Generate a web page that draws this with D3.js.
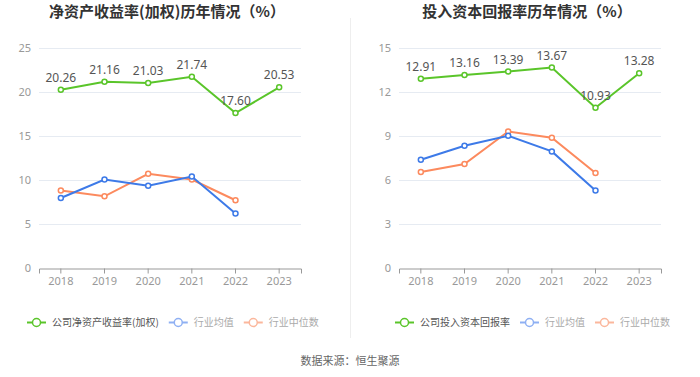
<!DOCTYPE html>
<html>
<head>
<meta charset="utf-8">
<script src="https://cdn.jsdelivr.net/npm/d3@7/dist/d3.min.js"></script>
<style>
  body { margin: 0; background: #fff; }
  svg { font-family: "Noto Sans CJK SC", "Noto Sans", sans-serif; }
</style>
</head>
<body>
<div id="chart"></div>
<script>
var years = ['2018', '2019', '2020', '2021', '2022', '2023'];

// left: ROE (weighted)
var roeCompany = [20.26, 21.16, 21.03, 21.74, 17.60, 20.53];
var roeMean    = [7.95, 10.05, 9.35, 10.4, 6.2];
var roeMedian  = [8.8, 8.15, 10.7, 10.05, 7.7];
var roeTicks   = [0, 5, 10, 15, 20, 25];

// right: ROIC
var roicCompany = [12.91, 13.16, 13.39, 13.67, 10.93, 13.28];
var roicMean    = [7.38, 8.34, 9.02, 7.95, 5.29];
var roicMedian  = [6.54, 7.09, 9.31, 8.88, 6.48];
var roicTicks   = [0, 3, 6, 9, 12, 15];

var green = '#5ac52a', blue = '#3d7ae8', orange = '#fc8a5e';

var width = 700, height = 377;

var svg = d3.select('#chart').append('svg')
    .attr('width', width)
    .attr('height', height);

// divider
svg.append('line')
    .attr('x1', 350.5).attr('x2', 350.5)
    .attr('y1', 18).attr('y2', 338)
    .attr('stroke', '#eeeeee');

svg.append('text')
    .attr('x', 350).attr('y', 365)
    .attr('text-anchor', 'middle')
    .attr('font-size', 11)
    .attr('fill', '#666')
    .text('数据来源：恒生聚源');

function drawPanel(cfg) {
    var g = svg.append('g');

    var x = d3.scaleBand()
        .domain(years)
        .range([cfg.x0, cfg.x1]);

    var y = d3.scaleLinear()
        .domain([0, d3.max(cfg.ticks)])
        .range([268, 48]);

    g.append('text')
        .attr('x', (cfg.x0 + cfg.x1) / 2 - 3)
        .attr('y', 17)
        .attr('text-anchor', 'middle')
        .attr('font-size', 15)
        .attr('font-weight', 'bold')
        .attr('fill', '#333')
        .text(cfg.title);

    // grid
    g.selectAll('.grid').data(cfg.ticks.slice(1))
        .enter().append('line')
        .attr('x1', cfg.x0).attr('x2', cfg.x1)
        .attr('y1', function(d) { return Math.round(y(d)) + 0.5; })
        .attr('y2', function(d) { return Math.round(y(d)) + 0.5; })
        .attr('stroke', '#e6ebf2');

    var yAxis = g.append('g')
        .attr('transform', 'translate(' + cfg.x0 + ',0)')
        .call(d3.axisLeft(y).tickValues(cfg.ticks).tickSize(0).tickPadding(8));
    yAxis.select('.domain').remove();
    yAxis.selectAll('text').attr('fill', '#999').attr('font-size', 11)
        .style('font-family', '"Noto Sans", sans-serif');

    var xAxis = g.append('g')
        .attr('transform', 'translate(0,268.5)')
        .call(d3.axisBottom(x).tickSize(5).tickPadding(4));
    xAxis.select('.domain').attr('stroke', '#999');
    xAxis.selectAll('line').attr('stroke', '#999');
    xAxis.selectAll('text').attr('fill', '#999').attr('font-size', 11)
        .style('font-family', '"Noto Sans", sans-serif');

    var cx = function(d, i) { return x(years[i]) + x.bandwidth() / 2; };
    var line = d3.line()
        .x(cx)
        .y(function(d) { return y(d); });

    [[cfg.median, orange], [cfg.mean, blue], [cfg.company, green]].forEach(function(s) {
        g.append('path')
            .datum(s[0])
            .attr('d', line)
            .attr('fill', 'none')
            .attr('stroke', s[1])
            .attr('stroke-width', 2);
        g.selectAll(null).data(s[0])
            .enter().append('circle')
            .attr('cx', cx)
            .attr('cy', function(d) { return y(d); })
            .attr('r', 2.5)
            .attr('fill', '#fff')
            .attr('stroke', s[1])
            .attr('stroke-width', 1.5);
    });

    g.selectAll(null).data(cfg.company)
        .enter().append('text')
        .attr('x', cx)
        .attr('y', function(d) { return y(d) - 8; })
        .attr('text-anchor', 'middle')
        .attr('font-size', 12)
        .attr('fill', '#555')
        .style('font-family', '"Noto Sans", sans-serif')
        .text(function(d) { return d.toFixed(2); });

    // legend
    var items = [
        { name: cfg.legend, color: green, text: '#555' },
        { name: '行业均值', color: '#8fb0f3', text: '#aaa' },
        { name: '行业中位数', color: '#fbb79c', text: '#aaa' }
    ];
    var lx = cfg.legendX;
    items.forEach(function(it) {
        var lg = g.append('g').attr('transform', 'translate(' + lx + ',322.5)');
        lg.append('line').attr('x1', 0).attr('x2', 19)
            .attr('stroke', it.color).attr('stroke-width', 2);
        lg.append('circle').attr('cx', 9.5).attr('r', 4)
            .attr('fill', '#fff').attr('stroke', it.color).attr('stroke-width', 1.5);
        var t = lg.append('text').attr('x', 25).attr('y', 3.5)
            .attr('font-size', 10).attr('fill', it.text)
            .text(it.name);
        lx += 25 + t.node().getComputedTextLength() + 10;
    });
}

drawPanel({
    title: '净资产收益率(加权)历年情况（%）',
    legend: '公司净资产收益率(加权)',
    x0: 39, x1: 301, legendX: 27,
    ticks: roeTicks, company: roeCompany, mean: roeMean, median: roeMedian
});

drawPanel({
    title: '投入资本回报率历年情况（%）',
    legend: '公司投入资本回报率',
    x0: 399, x1: 661, legendX: 395,
    ticks: roicTicks, company: roicCompany, mean: roicMean, median: roicMedian
});
</script>
</body>
</html>
